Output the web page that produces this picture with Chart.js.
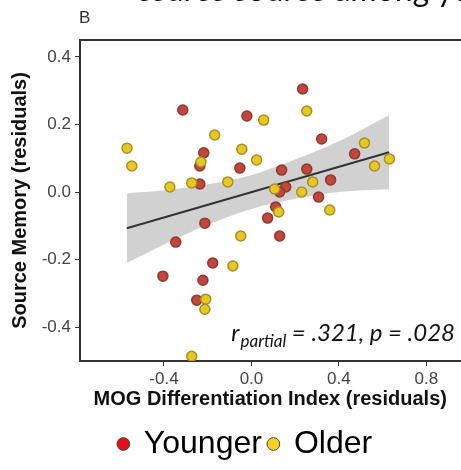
<!DOCTYPE html>
<html>
<head>
<meta charset="utf-8">
<script src="https://cdn.jsdelivr.net/npm/chart.js@4.4.1/dist/chart.umd.min.js"></script>
<style>
  html, body { margin: 0; padding: 0; background: #fff; overflow: hidden; }
  #wrap { position: relative; width: 461px; height: 470px; overflow: hidden; }
  #wrap canvas { position: absolute; left: 0; top: 0; }
  #head { position: absolute; left: 138px; top: -27px; font: 32px/32px Lato, "Open Sans", sans-serif; color: #111; white-space: nowrap; }
  #panel { position: absolute; left: 79px; top: 8px; font: 17px "Liberation Sans", Arial, sans-serif; color: #333; }
</style>
</head>
<body>
<div id="wrap">
  <canvas id="myChart" width="467" height="470"></canvas>
  <div id="head">ssures source among young g</div>
  <div id="panel">B</div>
</div>
<script>
// points (residuals)
const youngerX = [-0.314, -0.021, 0.234, 0.321, -0.218, -0.236, -0.053, 0.138, 0.253, 0.472, -0.236, 0.157,
                  0.129, 0.362, 0.307, 0.111, 0.074, -0.213, 0.129, -0.346, -0.177, -0.405, -0.222, -0.250];
const youngerY = [0.243, 0.225, 0.305, 0.157, 0.116, 0.077, 0.071, 0.065, 0.068, 0.113, 0.024, 0.015,
                  0.0, 0.036, -0.015, -0.044, -0.077, -0.092, -0.130, -0.148, -0.210, -0.249, -0.261, -0.320];
const olderX = [0.056, 0.253, -0.168, -0.569, -0.044, -0.231, 0.024, -0.547, 0.517, 0.631, 0.563, -0.373,
                -0.273, -0.108, 0.106, 0.280, 0.230, 0.125, 0.358, -0.049, -0.085, -0.209, -0.213, -0.273];
const olderY = [0.213, 0.240, 0.169, 0.130, 0.127, 0.089, 0.095, 0.077, 0.145, 0.098, 0.077, 0.015,
                0.027, 0.030, 0.009, 0.030, 0.0, -0.059, -0.053, -0.130, -0.219, -0.317, -0.347, -0.486];

// fit line and its grey band
const fitX = [-0.57, 0.63];
const fitY = [-0.107, 0.118];
const bandX = [-0.57, -0.4, -0.2, 0.0, 0.2, 0.4, 0.63];
const bandUpper = [-0.004, 0.005, 0.023, 0.05, 0.096, 0.15, 0.228];
const bandLower = [-0.21, -0.155, -0.097, -0.05, -0.02, 0.0, 0.008];

const xTicks = [-0.4, 0.0, 0.4, 0.8];
const yTicks = [-0.4, -0.2, 0.0, 0.2, 0.4];
const legendNames = ['Younger', 'Older'];

const noteR = 'r';
const noteSub = 'partial';
const noteTail = ' = .321, p = .028';

const PLOT_TOP = 40, PLOT_BOTTOM = 361, PLOT_LEFT = 80, H = 470, NOTE_RIGHT = 455, LEGEND_SHIFT = 12;
const X_MIN = -0.784, X_MAX = 0.956, Y_MIN = -0.5, Y_MAX = 0.45;

const pts = (xs, ys) => xs.map((x, i) => ({ x: x, y: ys[i] }));
const axisCol = '#333';

const statNote = {
  id: 'statNote',
  afterLayout(chart) {
    // legend sits a little right of the canvas centre in the original
    chart.legend.left += LEGEND_SHIFT;
    chart.legend.right += LEGEND_SHIFT;
  },
  afterDraw(chart) {
    const { ctx, chartArea } = chart;
    const big = 'italic 24px Lato, "Open Sans", sans-serif';
    const small = 'italic 17px Lato, "Open Sans", sans-serif';
    ctx.save();
    ctx.fillStyle = '#111';
    ctx.textBaseline = 'alphabetic';
    ctx.font = big;
    const wTail = ctx.measureText(noteTail).width;
    const wR = ctx.measureText(noteR).width;
    ctx.font = small;
    const wSub = ctx.measureText(noteSub).width;
    const base = chartArea.bottom - 20;
    let x = NOTE_RIGHT - wTail - wSub - wR - 1;
    ctx.font = big;
    ctx.fillText(noteR, x, base);
    x += wR + 1;
    ctx.font = small;
    ctx.fillText(noteSub, x, base + 6);
    x += wSub;
    ctx.font = big;
    ctx.fillText(noteTail, x, base);
    ctx.restore();
  }
};

Chart.defaults.font.family = '"Liberation Sans", Arial, sans-serif';

const ctx = document.getElementById('myChart').getContext('2d');
const myChart = new Chart(ctx, {
  type: 'scatter',
  data: {
    datasets: [
      {
        label: 'band low',
        type: 'line',
        data: pts(bandX, bandLower),
        borderWidth: 0,
        pointRadius: 0,
        cubicInterpolationMode: 'monotone',
        fill: false,
        order: 5
      },
      {
        label: 'band high',
        type: 'line',
        data: pts(bandX, bandUpper),
        borderWidth: 0,
        pointRadius: 0,
        cubicInterpolationMode: 'monotone',
        backgroundColor: 'rgba(190, 190, 190, 0.7)',
        fill: '-1',
        order: 5
      },
      {
        label: 'fit',
        type: 'line',
        data: pts(fitX, fitY),
        borderColor: '#333',
        borderWidth: 2,
        pointRadius: 0,
        fill: false,
        order: 3
      },
      {
        label: 'Younger',
        data: pts(youngerX, youngerY),
        backgroundColor: '#c4453d',
        borderColor: '#8c3a2e',
        borderWidth: 1.5,
        pointRadius: 5,
        order: 2
      },
      {
        label: 'Older',
        data: pts(olderX, olderY),
        backgroundColor: '#e8c81c',
        borderColor: '#a3902a',
        borderWidth: 1.5,
        pointRadius: 5,
        order: 1
      }
    ]
  },
  options: {
    responsive: false,
    animation: false,
    devicePixelRatio: 1,
    layout: { padding: { top: PLOT_TOP, left: 0, right: 0, bottom: 0 } },
    plugins: {
      tooltip: { enabled: false },
      legend: {
        position: 'bottom',
        labels: {
          usePointStyle: true,
          boxWidth: 9,
          boxHeight: 9,
          padding: 7,
          color: '#111',
          font: { size: 32 },
          generateLabels: () => legendNames.map((name, i) => ({
            text: name,
            fillStyle: i === 0 ? '#e3101b' : '#f2d21b',
            strokeStyle: '#444',
            lineWidth: 1,
            pointStyle: 'circle',
            hidden: false,
            datasetIndex: 3 + i
          }))
        }
      }
    },
    scales: {
      x: {
        type: 'linear',
        min: X_MIN,
        max: X_MAX,
        afterBuildTicks: s => { s.ticks = xTicks.map(v => ({ value: v })); },
        afterFit: s => { s.height = H - PLOT_BOTTOM - s.chart.legend.height; },
        grid: { drawOnChartArea: false, drawTicks: true, tickLength: 5, color: axisCol },
        border: { display: true, color: axisCol, width: 2 },
        ticks: { color: '#444', padding: 3, maxRotation: 0, font: { size: 17 }, callback: v => v.toFixed(1) },
        title: {
          display: true,
          text: 'MOG Differentiation Index (residuals)',
          color: '#111',
          font: { size: 20, weight: 'bold' },
          padding: { top: 0, bottom: 10 }
        }
      },
      xTop: {
        type: 'linear',
        position: 'top',
        min: X_MIN,
        max: X_MAX,
        afterFit: s => { s.height = 0; },
        ticks: { display: false },
        grid: { display: false },
        border: { display: true, color: axisCol, width: 2 }
      },
      y: {
        type: 'linear',
        min: Y_MIN,
        max: Y_MAX,
        afterBuildTicks: s => { s.ticks = yTicks.map(v => ({ value: v })); },
        afterFit: s => { s.width = PLOT_LEFT; },
        grid: { drawOnChartArea: false, drawTicks: true, tickLength: 5, color: axisCol },
        border: { display: true, color: axisCol, width: 2 },
        ticks: { color: '#444', padding: 4, font: { size: 17 }, callback: v => v.toFixed(1) },
        title: {
          display: true,
          text: 'Source Memory (residuals)',
          color: '#111',
          font: { size: 20, weight: 'bold' },
          padding: { top: 8, bottom: 0 }
        }
      }
    }
  },
  plugins: [statNote]
});
</script>
</body>
</html>
